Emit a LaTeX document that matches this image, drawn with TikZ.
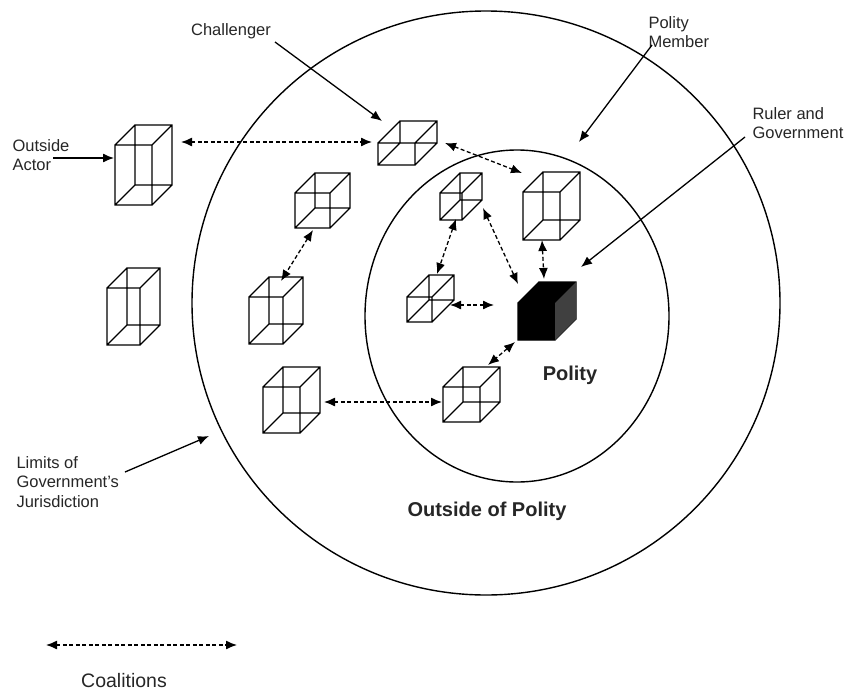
\documentclass[tikz,border=0pt]{standalone}
\usepackage{fontspec}
\setmainfont{Liberation Sans}
\usetikzlibrary{shapes.geometric,arrows.meta}

% Wuerfel: Name, x, y (vordere Flaeche oben links), Breite, Hoehe, Tiefe
\newcommand{\wuerfel}[6]{%
    \node[inner sep=0pt, outer sep=0pt, minimum width=#4pt+#6pt,
          minimum height=#5pt+#6pt, anchor=south west] (#1) at (#2,#3+#5) {};
    \draw   (#1.south west) rectangle ++(#4,-#5)
            ([shift={(#6,-#6)}]#1.south west) rectangle ++(#4,-#5)
            (#1.south west) -- ++(#6,-#6)
            ([xshift=#4pt]#1.south west) -- ++(#6,-#6)
            ([yshift=#5pt]#1.south west) -- ++(#6,-#6)
            ([shift={(#4,-#5)}]#1.south west) -- ++(#6,-#6);
}

\begin{document}
\begin{tikzpicture}[
        x=1pt, y=-1pt,
        font=\fontsize{16.5}{19.5}\selectfont,
        text=black!85,
        line width=1.1pt,
        >={Latex[length=11pt,width=9pt]}, % Pfeilspitzen
        koal/.style={<->, dash pattern=on 4pt off 2.5pt, line width=1.3pt},
        hinw/.style={->, line width=1.3pt},
        gross/.style={font=\bfseries\fontsize{20}{24}\selectfont}
        ]
            \useasboundingbox (0,0) rectangle (845,693);

            % Zustaendigkeit, Polity
            \node[draw, ellipse, line width=1.4pt, inner sep=0pt,
                  minimum width=588pt, minimum height=584pt] (J) at (486,303) {};
            \node[draw, ellipse, line width=1.4pt, inner sep=0pt,
                  minimum width=304pt, minimum height=332pt] (P) at (517,316) {};

            % Wuerfel
            \wuerfel{A}{115}{145}{37}{60}{20}
            \wuerfel{W1}{107}{288}{33}{57}{20}
            \wuerfel{C}{378}{143}{37}{22}{22}
            \wuerfel{W2}{295}{193}{35}{35}{20}
            \wuerfel{W3}{249}{297}{34}{47}{20}
            \wuerfel{W4}{263}{387}{37}{46}{20}
            \wuerfel{W5}{443}{387}{37}{35}{20}
            \wuerfel{W6}{440}{193}{22}{27}{20}
            \wuerfel{W7}{407}{297}{25}{25}{22}
            \wuerfel{M}{523}{192}{37}{48}{20}
            \wuerfel{R}{518}{303}{37}{37}{21}
            \fill[black]    (R.south west) rectangle ++(37,-37)
                            ([yshift=37pt]R.south west) -- ++(21,-21) -- ++(37,0) -- ++(-21,21) -- cycle;
            \fill[black!75] ([xshift=37pt]R.south west) -- ++(21,-21) -- ++(0,-37) -- ++(-21,21) -- cycle;

            % Koalitionen
            \draw[koal] ([shift={(9,-23)}]A.east) -- ([shift={(-6,-1)}]C.west);
            \draw[koal] ([shift={(8,0)}]C.east) -- ([shift={(-1,1)}]M.north west);
            \draw[koal] ([shift={(-9.5,2)}]W2.south) -- ([shift={(5,4)}]W3.north);
            \draw[koal] ([shift={(4,2)}]W4.east) -- ([shift={(-1,7.5)}]W5.west);
            \draw[koal] ([shift={(-5,-1)}]W6.south) -- ([shift={(6.5,-1)}]W7.north);
            \draw[koal] ([shift={(1,11.5)}]W6.east) -- ([shift={(0,2)}]R.north west);
            \draw[koal] ([shift={(-4,6.5)}]W7.east) -- ([shift={(-24,-6)}]R.west);
            \draw[koal] ([shift={(-9.5,0)}]M.south) -- ([shift={(-3,-3)}]R.north);
            \draw[koal] ([shift={(-3,2)}]R.south west) -- ([shift={(-12,-2)}]W5.north east);

            % Beschriftung
            \node[anchor=west, align=left, inner sep=1pt] (lA) at (11,155) {Outside\\Actor};
            \node (lC) at (231,31) {Challenger};
            \node[anchor=west, align=left, inner sep=1pt] (lM) at (647,32) {Polity\\Member};
            \node[anchor=west, align=left, inner sep=1pt] (lR) at (751,123) {Ruler and\\Government};
            \node[anchor=west, align=left, inner sep=1pt] (lJ) at (15,482) {Limits of\\Government's\\Jurisdiction};
            \node[gross] (lP) at (570,375) {Polity};
            \node[gross] (lO) at (487,511) {Outside of Polity};
            \node[font=\fontsize{19.5}{22}\selectfont, inner sep=1pt] (lK) at (124,681) {Coalitions};

            \coordinate (tA) at (53,158);
            \coordinate (tC) at (275,42);
            \coordinate (tM) at (652,45);
            \coordinate (hM) at (579,142);
            \coordinate (tR) at (745,137);
            \coordinate (tJ) at (125,472);
            \coordinate (hJ) at (209,436);
            \coordinate (k1) at (46,645);
            \coordinate (k2) at (237,645);

            \draw[hinw] (tA) -- ([shift={(-1,-7)}]A.west);
            \draw[hinw] (tC) -- ([shift={(4,0)}]C.north west);
            \draw[hinw] (tM) -- (hM);
            \draw[hinw] (tR) -- ([shift={(5,-15)}]R.north east);
            \draw[hinw] (tJ) -- (hJ);
            \draw[koal] (k1) -- (k2);

        \end{tikzpicture}
\end{document}
